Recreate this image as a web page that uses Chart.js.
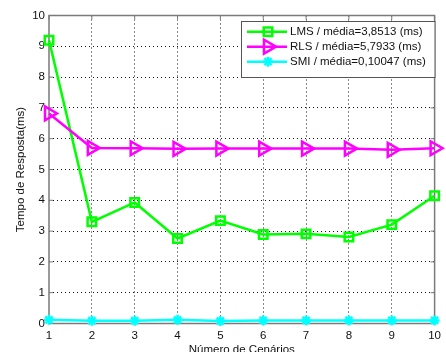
<!DOCTYPE html>
<html>
<head>
<meta charset="utf-8">
<script src="https://cdn.jsdelivr.net/npm/chart.js@4.4.1/dist/chart.umd.min.js"></script>
<style>
  html, body { margin: 0; padding: 0; background: #fff; }
  #wrap { width: 446px; height: 352px; }
</style>
</head>
<body>
<div id="wrap"><canvas id="c" width="446" height="352"></canvas></div>
<script>
// Scenario numbers on the x axis
const cenarios = [1, 2, 3, 4, 5, 6, 7, 8, 9, 10];
// Response time (ms) per scenario for each algorithm
const lms = [9.20, 3.30, 3.93, 2.76, 3.34, 2.89, 2.91, 2.81, 3.21, 4.15];
const rls = [6.82, 5.70, 5.69, 5.67, 5.68, 5.68, 5.68, 5.68, 5.64, 5.69];
const smi = [0.12, 0.09, 0.09, 0.12, 0.08, 0.10, 0.10, 0.10, 0.10, 0.10];
// Legend labels
const legendLabels = [
  'LMS / média=3,8513 (ms)',
  'RLS / média=5,7933 (ms)',
  'SMI / média=0,10047 (ms)'
];
const xTitle = 'Número de Cenários';
const yTitle = 'Tempo de Resposta(ms)';

const FONT = 'Liberation Sans, Arial, Helvetica, sans-serif';
const AXIS_GRAY = '#7a7a7a';

const toPts = arr => cenarios.map((c, i) => ({ x: c, y: arr[i] }));

const seriesStyles = [
  { color: '#00ff00', pointStyle: 'rect', radius: 6, rotation: 0 },
  { color: '#ff00ff', pointStyle: 'triangle', radius: 8, rotation: 90 },
  { color: '#00ffff', pointStyle: 'star', radius: 5, rotation: 0 }
];
const seriesData = [lms, rls, smi];

const datasets = seriesData.map((d, i) => ({
  label: legendLabels[i],
  data: toPts(d),
  borderColor: seriesStyles[i].color,
  backgroundColor: 'rgba(0,0,0,0)',
  borderWidth: 2.5,
  pointStyle: seriesStyles[i].pointStyle,
  pointRadius: seriesStyles[i].radius,
  pointRotation: seriesStyles[i].rotation,
  pointBorderColor: seriesStyles[i].color,
  pointBackgroundColor: 'rgba(0,0,0,0)',
  pointBorderWidth: 2.5,
  tension: 0,
  clip: false,
  order: 3 - i
}));

// Axes frame, inward tick marks and axis titles
const framePlugin = {
  id: 'frame',
  beforeDatasetsDraw(chart) {
    const { ctx, chartArea: a, scales } = chart;
    ctx.save();
    ctx.strokeStyle = AXIS_GRAY;
    ctx.lineWidth = 1.5;
    ctx.strokeRect(a.left, a.top, a.right - a.left, a.bottom - a.top);
    ctx.lineWidth = 1;
    const tl = 4;
    scales.y.ticks.forEach(t => {
      const y = scales.y.getPixelForValue(t.value);
      ctx.beginPath();
      ctx.moveTo(a.left, y); ctx.lineTo(a.left + tl, y);
      ctx.moveTo(a.right, y); ctx.lineTo(a.right - tl, y);
      ctx.stroke();
    });
    scales.x.ticks.forEach(t => {
      const x = scales.x.getPixelForValue(t.value);
      ctx.beginPath();
      ctx.moveTo(x, a.bottom); ctx.lineTo(x, a.bottom - tl);
      ctx.moveTo(x, a.top); ctx.lineTo(x, a.top + tl);
      ctx.stroke();
    });
    ctx.restore();
  },
  afterDraw(chart) {
    const { ctx, chartArea: a } = chart;
    ctx.save();
    ctx.fillStyle = '#111';
    ctx.font = '11.5px ' + FONT;
    ctx.textAlign = 'center';
    ctx.textBaseline = 'middle';
    ctx.fillText(xTitle, (a.left + a.right) / 2, 350);
    ctx.translate(21, (a.top + a.bottom) / 2);
    ctx.rotate(-Math.PI / 2);
    ctx.fillText(yTitle, 0, 0);
    ctx.restore();
  }
};

// Boxed legend with line sample and hollow marker for each series
const legendPlugin = {
  id: 'boxLegend',
  afterDatasetsDraw(chart) {
    const ctx = chart.ctx;
    const box = { x: 241.5, y: 21.5, w: 193.5, h: 56 };
    ctx.save();
    ctx.fillStyle = '#fff';
    ctx.fillRect(box.x, box.y, box.w, box.h);
    ctx.strokeStyle = '#555';
    ctx.lineWidth = 1;
    ctx.strokeRect(box.x, box.y, box.w, box.h);
    const rows = [31.7, 46.7, 61.7];
    const helpers = (Chart.helpers || {});
    legendLabels.forEach((lab, i) => {
      const s = seriesStyles[i];
      const y = rows[i];
      ctx.strokeStyle = s.color;
      ctx.lineWidth = 2.5;
      ctx.beginPath();
      ctx.moveTo(247, y); ctx.lineTo(287, y);
      ctx.stroke();
      if (helpers.drawPoint) {
        ctx.save();
        ctx.fillStyle = 'rgba(0,0,0,0)';
        ctx.strokeStyle = s.color;
        ctx.lineWidth = 2.5;
        helpers.drawPoint(ctx, {
          pointStyle: s.pointStyle, radius: s.radius, rotation: s.rotation, borderWidth: 2.5
        }, 268, y);
        ctx.restore();
      }
      ctx.fillStyle = '#111';
      ctx.font = '11.5px ' + FONT;
      ctx.textAlign = 'left';
      ctx.textBaseline = 'middle';
      ctx.fillText(lab, 290, y + 0.5);
    });
    ctx.restore();
  }
};

const edgeTransparent = (min, max) => ctx =>
  (ctx.tick && (ctx.tick.value === min || ctx.tick.value === max)) ? 'rgba(0,0,0,0)' : '#111';

new Chart(document.getElementById('c'), {
  type: 'line',
  data: { datasets },
  options: {
    responsive: false,
    animation: false,
    devicePixelRatio: 1,
    layout: { padding: { left: 0, right: 7, top: 15.5, bottom: 0 } },
    plugins: { legend: { display: false }, tooltip: { enabled: false } },
    scales: {
      x: {
        type: 'linear',
        min: 1, max: 10,
        ticks: { stepSize: 1, padding: 5, color: '#111', font: { family: FONT, size: 11.5 }, maxRotation: 0 },
        grid: { color: edgeTransparent(1, 10), lineWidth: 1, drawTicks: false },
        border: { display: false, dash: [1, 3] },
        afterFit(scale) { scale.height = 28.5; }
      },
      y: {
        min: 0, max: 10,
        ticks: { stepSize: 1, padding: 4, color: '#111', font: { family: FONT, size: 11.5 } },
        grid: { color: edgeTransparent(0, 10), lineWidth: 1, drawTicks: false },
        border: { display: false, dash: [1, 3] },
        afterFit(scale) { scale.width = 49; }
      }
    }
  },
  plugins: [framePlugin, legendPlugin]
});
</script>
</body>
</html>
